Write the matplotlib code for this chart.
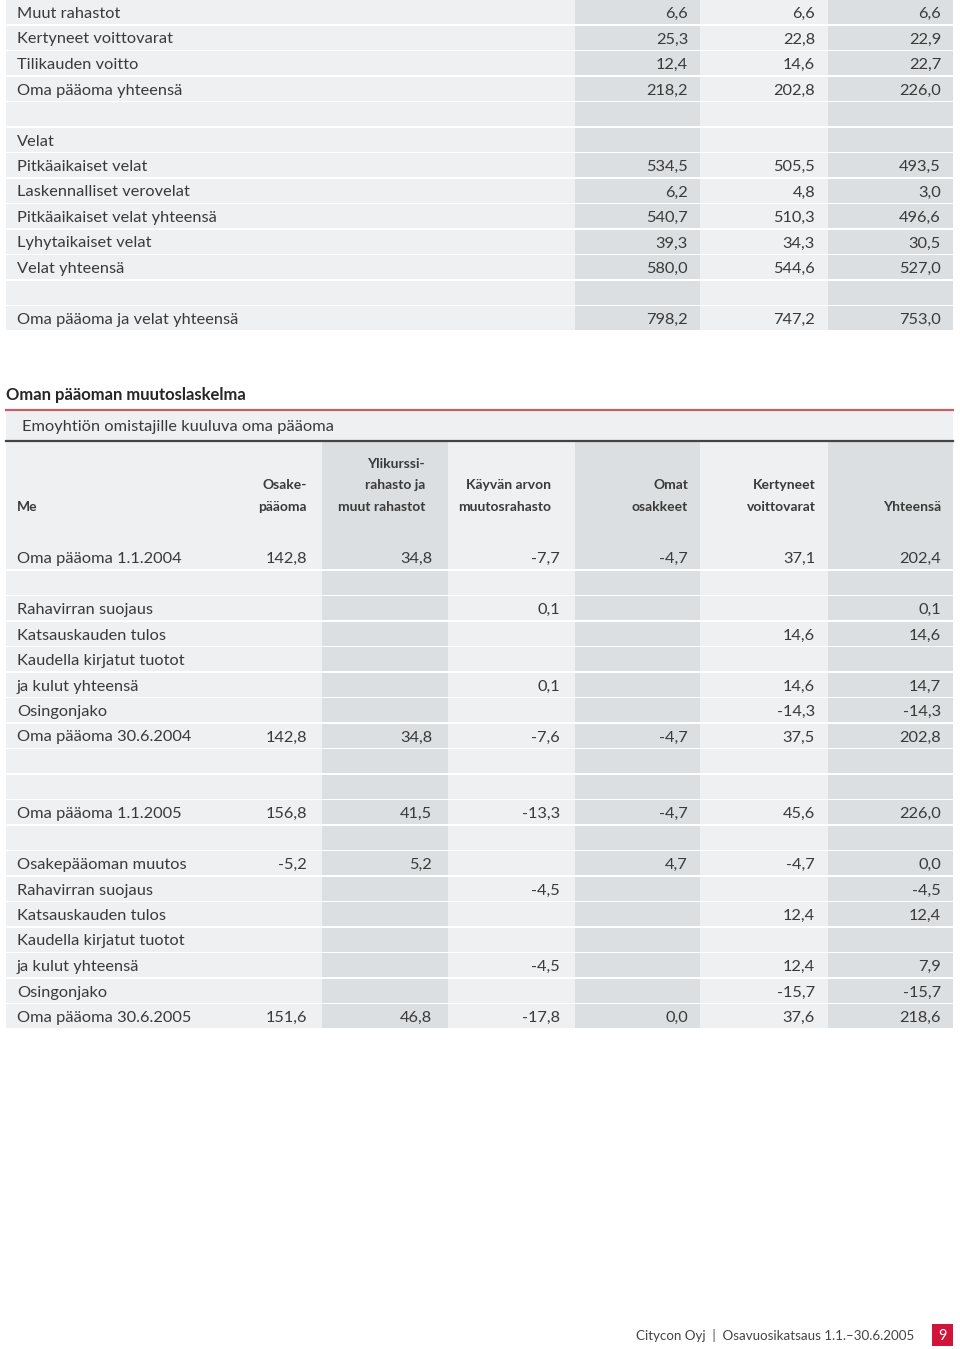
import matplotlib.pyplot as plt

plt.rcParams['font.family'] = ['Lato', 'DejaVu Sans']

# top table (balance sheet, continued)
top_labels = ["Muut rahastot", "Kertyneet voittovarat", "Tilikauden voitto",
              "Oma pääoma yhteensä", "", "Velat", "Pitkäaikaiset velat",
              "Laskennalliset verovelat", "Pitkäaikaiset velat yhteensä",
              "Lyhytaikaiset velat", "Velat yhteensä", "",
              "Oma pääoma ja velat yhteensä"]
top_col1 = [6.6, 25.3, 12.4, 218.2, None, None, 534.5, 6.2, 540.7, 39.3, 580.0, None, 798.2]
top_col2 = [6.6, 22.8, 14.6, 202.8, None, None, 505.5, 4.8, 510.3, 34.3, 544.6, None, 747.2]
top_col3 = [6.6, 22.9, 22.7, 226.0, None, None, 493.5, 3.0, 496.6, 30.5, 527.0, None, 753.0]

# statement of changes in equity
title = "Oman pääoman muutoslaskelma"
subtitle = "Emoyhtiön omistajille kuuluva oma pääoma"
unit = "Me"
headers = [["Osake-", "pääoma"],
           ["Ylikurssi-", "rahasto ja", "muut rahastot"],
           ["Käyvän arvon", "muutosrahasto"],
           ["Omat", "osakkeet"],
           ["Kertyneet", "voittovarat"],
           ["Yhteensä"]]
N = None
bot_labels = ["Oma pääoma 1.1.2004", "", "Rahavirran suojaus", "Katsauskauden tulos",
              "Kaudella kirjatut tuotot", "ja kulut yhteensä", "Osingonjako",
              "Oma pääoma 30.6.2004", "", "", "Oma pääoma 1.1.2005", "",
              "Osakepääoman muutos", "Rahavirran suojaus", "Katsauskauden tulos",
              "Kaudella kirjatut tuotot", "ja kulut yhteensä", "Osingonjako",
              "Oma pääoma 30.6.2005"]
osake = [142.8, N, N, N, N, N, N, 142.8, N, N, 156.8, N, -5.2, N, N, N, N, N, 151.6]
ylikurssi = [34.8, N, N, N, N, N, N, 34.8, N, N, 41.5, N, 5.2, N, N, N, N, N, 46.8]
kayvan = [-7.7, N, 0.1, N, N, 0.1, N, -7.6, N, N, -13.3, N, N, -4.5, N, N, -4.5, N, -17.8]
omat = [-4.7, N, N, N, N, N, N, -4.7, N, N, -4.7, N, 4.7, N, N, N, N, N, 0.0]
kertyneet = [37.1, N, N, 14.6, N, 14.6, -14.3, 37.5, N, N, 45.6, N, -4.7, N, 12.4, N, 12.4, -15.7, 37.6]
yhteensa = [202.4, N, 0.1, 14.6, N, 14.7, -14.3, 202.8, N, N, 226.0, N, 0.0, -4.5, 12.4, N, 7.9, -15.7, 218.6]

footer = "Citycon Oyj  |  Osavuosikatsaus 1.1.–30.6.2005"
page_no = "9"

LIGHT = '#eff0f2'
DARK = '#dcdfe1'
TXT = '#3a3a3a'
PITCH = 25.5
BAND = 24
FS = 11.8


def fmt(v):
    return '' if v is None else f"{v:.1f}".replace('.', ',')


fig = plt.figure(figsize=(9.6, 13.49), dpi=100)
ax = fig.add_axes([0, 0, 1, 1])
ax.set_xlim(0, 960)
ax.set_ylim(1349, 0)
ax.axis('off')

# --- top table ---
top_cols = [(6, 575, LIGHT), (575, 700, DARK), (700, 828, LIGHT), (828, 953, DARK)]
top_right = [688, 815, 941]
for i, lab in enumerate(top_labels):
    yc = 12 + PITCH * i
    for x0, x1, c in top_cols:
        ax.barh(yc, x1 - x0, left=x0, height=BAND, color=c, linewidth=0)
    ax.text(17, yc + 6, lab, fontsize=FS, color=TXT, va='baseline')
    for xr, col in zip(top_right, [top_col1, top_col2, top_col3]):
        ax.text(xr, yc + 6, fmt(col[i]), fontsize=FS, color=TXT,
                va='baseline', ha='right')

# --- changes in equity ---
ax.text(6, 400, title, fontsize=12, fontweight='bold', color='#262626', va='baseline')
ax.plot([6, 953], [409.5, 409.5], color='#c2606c', lw=1.6)
ax.barh(425.5, 947, left=6, height=29, color=LIGHT, linewidth=0)
ax.text(22, 431, subtitle, fontsize=FS, color=TXT, va='baseline')
ax.plot([6, 953], [441, 441], color='#444444', lw=1.6)

bot_cols = [(6, 322, LIGHT), (322, 448, DARK), (448, 575, LIGHT),
            (575, 700, DARK), (700, 828, LIGHT), (828, 953, DARK)]
val_right = [307, 432, 560, 688, 815, 941]
head_right = [307, 425, 551, 688, 816, 941]

# header block
for x0, x1, c in bot_cols:
    ax.barh(493.5, x1 - x0, left=x0, height=103, color=c, linewidth=0)
ax.text(17, 511, unit, fontsize=10, fontweight='bold', color=TXT, va='baseline')
head_y = [467.5, 489, 511]
for xr, lines in zip(head_right, headers):
    for k, line in enumerate(lines):
        ax.text(xr, head_y[len(head_y) - len(lines) + k], line, fontsize=10,
                fontweight='bold', color=TXT, va='baseline', ha='right')

series = [osake, ylikurssi, kayvan, omat, kertyneet, yhteensa]
for i, lab in enumerate(bot_labels):
    yc = 557 + PITCH * i
    top = yc - 12 if i > 0 else 545
    for x0, x1, c in bot_cols:
        ax.barh((top + yc + 12) / 2, x1 - x0, left=x0, height=yc + 12 - top,
                color=c, linewidth=0)
    ax.text(17, yc + 6, lab, fontsize=FS, color=TXT, va='baseline')
    for xr, col in zip(val_right, series):
        ax.text(xr, yc + 6, fmt(col[i]), fontsize=FS, color=TXT,
                va='baseline', ha='right')

# footer
ax.text(914, 1340, footer, fontsize=9.6, color='#444444', va='baseline', ha='right')
ax.barh(1335, 21, left=932, height=22, color='#d2143a', linewidth=0)
ax.text(942.5, 1340, page_no, fontsize=10.5, color='white', va='baseline', ha='center')

fig.savefig('out.png', dpi=100)
